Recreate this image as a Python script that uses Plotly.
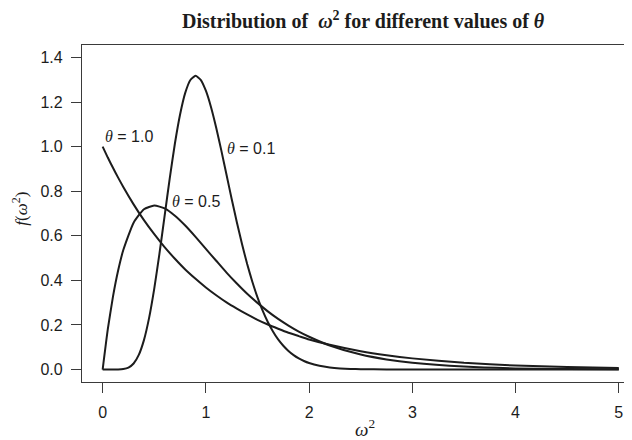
import plotly.graph_objects as go

# values
x_vals = [0, 0.05, 0.1, 0.15, 0.2, 0.3, 0.4, 0.5, 0.6, 0.7, 0.8, 0.9, 1.0,
          1.1, 1.2, 1.3, 1.4, 1.5, 1.6, 1.7, 1.8, 1.9, 2.0, 2.2, 2.5, 2.75,
          3.0, 3.5, 4.0, 4.5, 5.0]
f_theta_10 = [1.0, 0.951, 0.905, 0.861, 0.819, 0.741, 0.670, 0.607, 0.549, 0.497,
              0.449, 0.407, 0.368, 0.333, 0.301, 0.273, 0.247, 0.223, 0.202, 0.183,
              0.165, 0.150, 0.135, 0.111, 0.082, 0.064, 0.050, 0.030, 0.018, 0.011,
              0.007]
f_theta_05 = [0.0, 0.181, 0.327, 0.444, 0.536, 0.659, 0.719, 0.736, 0.723, 0.690,
              0.646, 0.595, 0.541, 0.488, 0.435, 0.386, 0.340, 0.299, 0.261, 0.227,
              0.197, 0.170, 0.147, 0.108, 0.067, 0.045, 0.030, 0.013, 0.005, 0.002,
              0.001]
x_theta_01 = [0, 0.05, 0.1, 0.15, 0.2, 0.25, 0.3, 0.35, 0.4, 0.45, 0.5, 0.55, 0.6,
              0.65, 0.7, 0.75, 0.8, 0.85, 0.9, 0.95, 1.0, 1.05, 1.1, 1.15, 1.2,
              1.25, 1.3, 1.35, 1.4, 1.45, 1.5, 1.55, 1.6, 1.65, 1.7, 1.75, 1.8,
              1.85, 1.9, 1.95, 2.0, 2.1, 2.2, 2.3, 2.4, 2.5, 2.75, 3.0, 3.5, 4.0,
              4.5, 5.0]
f_theta_01 = [0.0, 0.0, 0.0, 0.0002, 0.0019, 0.0086, 0.027, 0.0656, 0.132, 0.2316,
              0.363, 0.5187, 0.688, 0.858, 1.014, 1.144, 1.241, 1.299, 1.318, 1.300,
              1.251, 1.177, 1.085, 0.982, 0.874, 0.765, 0.661, 0.563, 0.473, 0.394,
              0.324, 0.264, 0.213, 0.1705, 0.135, 0.1065, 0.0833, 0.0646, 0.0498,
              0.0382, 0.0291, 0.0166, 0.0093, 0.0051, 0.0027, 0.0015, 0.0002, 0.0,
              0.0, 0.0, 0.0, 0.0]

series = [("θ = 1.0", x_vals, f_theta_10),
          ("θ = 0.5", x_vals, f_theta_05),
          ("θ = 0.1", x_theta_01, f_theta_01)]
label_pos = {"θ = 1.0": (0.254, 1.044), "θ = 0.5": (0.907, 0.756), "θ = 0.1": (1.435, 0.993)}

x_ticks = [0, 1, 2, 3, 4, 5]
y_ticks = [0.0, 0.2, 0.4, 0.6, 0.8, 1.0, 1.2, 1.4]
y_tick_text = ["0.0", "0.2", "0.4", "0.6", "0.8", "1.0", "1.2", "1.4"]

# page body has an 8px margin; the figure is sized so it ends at the window edge
OFF = 8
W, H = 632 - OFF, 440 - OFF
L, T = 81.6 - OFF, 44.7 - OFF
B = H - (381.7 - OFF)
PW, PH = W - L, H - T - B

def px(xs):  # screen pixel -> paper x
    return (xs - OFF - L) / PW

def py(ys):  # screen pixel -> paper y
    return (H - B - (ys - OFF)) / PH

fig = go.Figure()
for name, xs, ys in series:
    fig.add_trace(go.Scatter(x=xs, y=ys, mode="lines", name=name,
                             line=dict(color="#1c1c1c", width=2, shape="spline", smoothing=0.5),
                             showlegend=False, hoverinfo="skip"))

sans = "Liberation Sans, Arial, sans-serif"
serif = "Liberation Serif, Times New Roman, serif"

annotations = []
for name, (lx, ly) in label_pos.items():
    val = name.split("= ")[1]
    annotations.append(dict(
        x=lx, y=ly, xref="x", yref="y", showarrow=False,
        text=f"<span style='font-family:{serif}'><i>θ</i></span> = {val}",
        font=dict(family=sans, size=16, color="#1c1c1c"),
        xanchor="center", yanchor="middle"))

annotations.append(dict(
    x=px(363), y=py(20), xref="paper", yref="paper", showarrow=False,
    text="<b>Distribution of  <i>ω</i><sup>2</sup> for different values of <i>θ</i></b>",
    font=dict(family=serif, size=20, color="#1c1c1c"),
    xanchor="center", yanchor="middle"))
annotations.append(dict(
    x=px(365), y=py(428), xref="paper", yref="paper", showarrow=False,
    text="<i>ω</i><sup>2</sup>",
    font=dict(family=serif, size=19, color="#1c1c1c"),
    xanchor="center", yanchor="middle"))
annotations.append(dict(
    x=px(20), y=py(208), xref="paper", yref="paper", showarrow=False,
    text="<i>f</i>(<i>ω</i><sup>2</sup>)", textangle=-90,
    font=dict(family=serif, size=17, color="#1c1c1c"),
    xanchor="center", yanchor="middle", borderpad=0))

fig.update_layout(
    width=W, height=H,
    margin=dict(l=L, r=0, t=T, b=B, pad=0),
    paper_bgcolor="white", plot_bgcolor="white",
    annotations=annotations,
    xaxis=dict(range=[-0.2, 5.128], tickvals=x_ticks, ticktext=[str(v) for v in x_ticks],
               showgrid=False, zeroline=False, showline=True, mirror=True,
               linecolor="#3a3a3a", linewidth=1.3, ticks="outside", ticklen=10,
               tickwidth=1.2, tickcolor="#3a3a3a", ticklabelstandoff=6,
               tickfont=dict(family=sans, size=16, color="#1c1c1c")),
    yaxis=dict(range=[-0.056, 1.456], tickvals=y_ticks, ticktext=y_tick_text,
               showgrid=False, zeroline=False, showline=True, mirror=False,
               linecolor="#3a3a3a", linewidth=1.3, ticks="outside", ticklen=10,
               tickwidth=1.2, tickcolor="#3a3a3a", ticklabelstandoff=5,
               tickfont=dict(family=sans, size=16, color="#1c1c1c")),
)

fig.write_html("out.html")
